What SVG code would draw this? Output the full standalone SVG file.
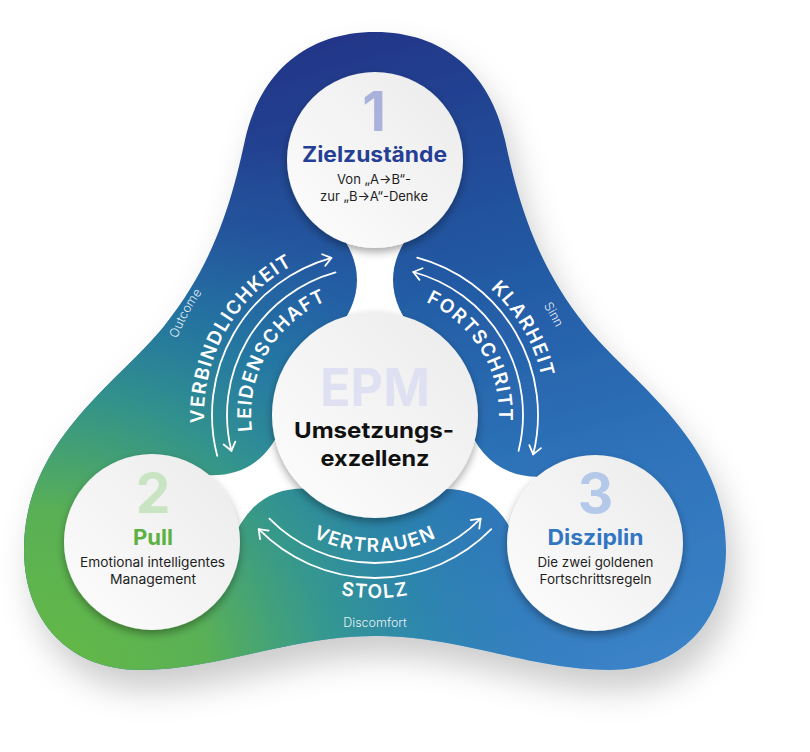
<svg xmlns="http://www.w3.org/2000/svg" width="810" height="752" viewBox="0 0 810 752">
  <defs>
    <style>
      .title { font-family: Inter, "Liberation Sans", sans-serif; font-weight: 700; text-anchor: middle; }
      .body { font-family: Inter, "Liberation Sans", sans-serif; font-weight: 400; font-size: 13px; fill: #1e1e1e; text-anchor: middle; }
      .digit { font-family: Inter, "Liberation Sans", sans-serif; font-weight: 700; font-size: 55px; text-anchor: middle; }
      .arc { fill: none; stroke: #ffffff; stroke-width: 1.8; stroke-linecap: round; }
      .arclabel { font-family: Inter, "Liberation Sans", sans-serif; font-weight: 600; font-size: 19px; fill: #ffffff; letter-spacing: 1.4px; }
      .small { font-family: Inter, "Liberation Sans", sans-serif; font-weight: 300; font-size: 12.5px; fill: #ffffff; fill-opacity: 0.9; }
      .disc { fill: url(#gCircle); }
      .neck { fill: #ffffff; }
    </style>
    <linearGradient id="gBase" gradientUnits="userSpaceOnUse" x1="375" y1="30" x2="560" y2="680">
      <stop offset="0" stop-color="#213688"/>
      <stop offset="0.35" stop-color="#2156a0"/>
      <stop offset="0.7" stop-color="#2e72ba"/>
      <stop offset="1" stop-color="#3a82c6"/>
    </linearGradient>
    <radialGradient id="gGreen" gradientUnits="userSpaceOnUse" cx="30" cy="690" r="600">
      <stop offset="0" stop-color="#66ba42" stop-opacity="1"/>
      <stop offset="0.3" stop-color="#5cb450" stop-opacity="0.95"/>
      <stop offset="0.5" stop-color="#36a083" stop-opacity="0.8"/>
      <stop offset="0.68" stop-color="#2690a0" stop-opacity="0.5"/>
      <stop offset="0.85" stop-color="#2a82b0" stop-opacity="0.15"/>
      <stop offset="1" stop-color="#2a80b0" stop-opacity="0"/>
    </radialGradient>
    <linearGradient id="gCircle" x1="1" y1="0" x2="0" y2="1">
      <stop offset="0" stop-color="#ebebeb"/>
      <stop offset="1" stop-color="#fdfdfd"/>
    </linearGradient>
    <filter id="fBlob" x="-20%" y="-20%" width="140%" height="140%">
      <feDropShadow dx="8" dy="20" stdDeviation="16" flood-color="#000" flood-opacity="0.2"/>
    </filter>
    <filter id="fCircle" x="-30%" y="-30%" width="160%" height="160%">
      <feDropShadow dx="0" dy="4" stdDeviation="4" flood-color="#000" flood-opacity="0.35"/>
    </filter>
    <marker id="ah" viewBox="-12 -10 16 20" markerWidth="16" markerHeight="20" refX="0" refY="0" orient="auto" markerUnits="userSpaceOnUse">
      <path d="M-8,-6 L0,0 L-8,6" fill="none" stroke="#ffffff" stroke-width="1.8" stroke-linecap="round" stroke-linejoin="round"/>
    </marker>
    <path id="blobShape" d="M 375,32 C 443,32 490,72 505,140 C 518,200 535,262 585,325 C 630,382 726,440 726,550 C 726,622 680,670 610,670 C 530,670 462,636 375,636 C 288,636 220,670 140,670 C 70,670 24,622 24,550 C 24,440 120,382 165,325 C 215,262 232,200 245,140 C 260,72 307,32 375,32 Z"/>
    <path id="neckShape" d="M 80,-41.6 Q 135,5.6 190,-41.6 L 190,41.6 Q 135,-5.6 80,41.6 Z"/>
    <path id="tp-verb" d="M 226.9,500.5 A 171 171 0 0 1 375,244"/>
    <path id="tp-leid" d="M 267.6,477 A 124 124 0 0 1 375,291"/>
    <path id="tp-klar" d="M 375,244 A 171 171 0 0 1 523.1,500.5"/>
    <path id="tp-fort" d="M 375,291 A 124 124 0 0 1 482.4,477"/>
    <path id="tp-vert" d="M 256.4,483.5 A 137 137 0 0 0 493.6,483.5"/>
    <path id="tp-stolz" d="M 216.5,506.5 A 183 183 0 0 0 533.5,506.5"/>
    <path id="tp-out" d="M 193.4,524.6 A 212 212 0 0 1 375,203"/>
    <path id="tp-sinn" d="M 375,214 A 201 201 0 0 1 549,515.5"/>
  </defs>

  <g id="background">
    <use href="#blobShape" fill="url(#gBase)" filter="url(#fBlob)"/>
    <use href="#blobShape" fill="url(#gGreen)"/>
    <use href="#neckShape" class="neck" transform="translate(375,415) rotate(-90)"/>
    <use href="#neckShape" class="neck" transform="translate(375,415) rotate(150.3)"/>
    <use href="#neckShape" class="neck" transform="translate(375,415) rotate(30.2)"/>
  </g>

  <g id="connectors">
    <path class="arc" d="M 217.2,455.8 A 163 163 0 0 1 331.4,257.9" marker-end="url(#ah)"/>
    <path class="arc" d="M 335.5,272.4 A 148 148 0 0 0 231.4,450.8" marker-end="url(#ah)"/>
    <path class="arc" d="M 417.2,257.6 A 163 163 0 0 1 533.2,454.4" marker-end="url(#ah)"/>
    <path class="arc" d="M 518.6,450.8 A 148 148 0 0 0 413.3,272.0" marker-end="url(#ah)"/>
    <path class="arc" d="M 269.4,518.7 A 148 148 0 0 0 480.6,518.7" marker-end="url(#ah)"/>
    <path class="arc" d="M 491.3,529.2 A 163 163 0 0 1 258.7,529.2" marker-end="url(#ah)"/>
    <text class="arclabel"><textPath href="#tp-verb" startOffset="49.5%" text-anchor="middle">VERBINDLICHKEIT</textPath></text>
    <text class="arclabel"><textPath href="#tp-leid" startOffset="50%" text-anchor="middle">LEIDENSCHAFT</textPath></text>
    <text class="arclabel"><textPath href="#tp-klar" startOffset="50%" text-anchor="middle">KLARHEIT</textPath></text>
    <text class="arclabel"><textPath href="#tp-fort" startOffset="49%" text-anchor="middle">FORTSCHRITT</textPath></text>
    <text class="arclabel"><textPath href="#tp-vert" startOffset="50%" text-anchor="middle">VERTRAUEN</textPath></text>
    <text class="arclabel"><textPath href="#tp-stolz" startOffset="50%" text-anchor="middle">STOLZ</textPath></text>
    <text class="small"><textPath href="#tp-out" startOffset="49%" text-anchor="middle">Outcome</textPath></text>
    <text class="small"><textPath href="#tp-sinn" startOffset="50.5%" text-anchor="middle">Sinn</textPath></text>
    <text class="small" x="375" y="627" text-anchor="middle" font-size="13.5">Discomfort</text>
  </g>

  <g id="node-zielzustaende">
    <circle class="disc" cx="375" cy="160" r="88" filter="url(#fCircle)"/>
    <text class="digit" x="374" y="131" fill="#aab2dc">1</text>
    <text class="title" x="374.5" y="162" font-size="21" fill="#253f94" textLength="145" lengthAdjust="spacingAndGlyphs">Zielzustände</text>
    <text class="body" x="374" y="184" textLength="74" lengthAdjust="spacingAndGlyphs">Von „A→B“-</text>
    <text class="body" x="374" y="201" textLength="108" lengthAdjust="spacingAndGlyphs">zur „B→A“-Denke</text>
  </g>

  <g id="node-pull">
    <circle class="disc" cx="152" cy="542" r="88" filter="url(#fCircle)"/>
    <text class="digit" x="153" y="513" fill="#c9e4c2">2</text>
    <text class="title" x="153" y="545" font-size="21" fill="#5cb142" textLength="40" lengthAdjust="spacingAndGlyphs">Pull</text>
    <text class="body" x="152.6" y="567" textLength="145" lengthAdjust="spacingAndGlyphs">Emotional intelligentes</text>
    <text class="body" x="153" y="584" textLength="86" lengthAdjust="spacingAndGlyphs">Management</text>
  </g>

  <g id="node-disziplin">
    <circle class="disc" cx="595" cy="543" r="88" filter="url(#fCircle)"/>
    <text class="digit" x="595.5" y="513" fill="#b4c9ea">3</text>
    <text class="title" x="595.5" y="545" font-size="21" fill="#3276c3" textLength="96" lengthAdjust="spacingAndGlyphs">Disziplin</text>
    <text class="body" x="595.5" y="567" textLength="116" lengthAdjust="spacingAndGlyphs">Die zwei goldenen</text>
    <text class="body" x="595.5" y="584" textLength="112" lengthAdjust="spacingAndGlyphs">Fortschrittsregeln</text>
  </g>

  <g id="node-epm">
    <circle class="disc" cx="375" cy="415" r="103" filter="url(#fCircle)"/>
    <text class="title" x="375" y="406" font-size="52" fill="#dfe1f3" textLength="110" lengthAdjust="spacingAndGlyphs">EPM</text>
    <text class="title" x="374" y="438" font-size="22" fill="#111111" textLength="160" lengthAdjust="spacingAndGlyphs">Umsetzungs-</text>
    <text class="title" x="375" y="466" font-size="22" fill="#111111" textLength="109" lengthAdjust="spacingAndGlyphs">exzellenz</text>
  </g>
</svg>
